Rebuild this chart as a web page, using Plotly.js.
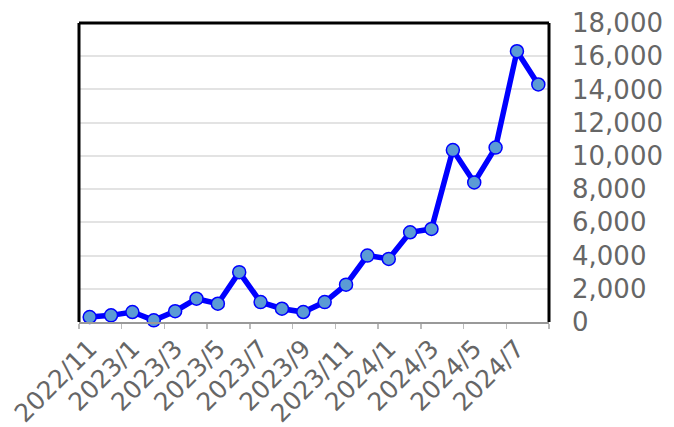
<!DOCTYPE html>
<html>
<head>
<meta charset="utf-8">
<script src="https://cdn.plot.ly/plotly-3.0.1.min.js"></script>
<style>html,body{margin:0;padding:0;background:#fff;}#chart{width:674px;height:427px;}</style>
</head>
<body>
<div id="chart"></div>
<script>
var months = ["2022/11","2022/12","2023/1","2023/2","2023/3","2023/4","2023/5","2023/6","2023/7","2023/8","2023/9","2023/10","2023/11","2023/12","2024/1","2024/2","2024/3","2024/4","2024/5","2024/6","2024/7","2024/8"];
var values = [300, 400, 600, 100, 650, 1400, 1100, 3000, 1200, 800, 600, 1200, 2250, 4000, 3800, 5400, 5600, 10350, 8400, 10500, 16300, 14300];
var yTicks = [0, 2000, 4000, 6000, 8000, 10000, 12000, 14000, 16000, 18000];

var trace = {
  x: months, y: values, type: 'scatter', mode: 'lines+markers',
  line: {color: '#0000ff', width: 5.5},
  marker: {size: 13, color: '#5b9bd5', line: {color: '#0000ff', width: 1.5}},
  cliponaxis: false, hoverinfo: 'skip'
};

var layout = {
  width: 674, height: 427,
  margin: {l: 79, r: 125, t: 23, b: 105},
  paper_bgcolor: '#ffffff', plot_bgcolor: '#ffffff',
  showlegend: false,
  font: {family: 'DejaVu Sans', color: '#666666'},
  xaxis: {
    type: 'category', range: [-0.5, 21.5],
    tickmode: 'linear', tick0: 0, dtick: 2,
    tickson: 'boundaries', ticks: 'outside', ticklen: 5, tickwidth: 1.5, tickcolor: '#bbbbbb',
    tickangle: -45, tickfont: {size: 25, color: '#666666', family: 'DejaVu Sans'},
    showgrid: false, zeroline: false,
    showline: true, linecolor: '#999999', linewidth: 2
  },
  yaxis: {
    side: 'right', range: [0, 18000], tickvals: yTicks,
    tickformat: ',d', ticks: '', ticklabelstandoff: 22,
    tickfont: {size: 26, color: '#666666', family: 'DejaVu Sans'},
    showgrid: true, gridcolor: '#e3e3e3', gridwidth: 2,
    zeroline: false, showline: false
  },
  shapes: [
    {type: 'line', xref: 'paper', yref: 'paper', x0: 0, x1: 0, y0: 0, y1: 1, line: {color: '#000', width: 3}},
    {type: 'line', xref: 'paper', yref: 'paper', x0: 0, x1: 1, y0: 1, y1: 1, line: {color: '#000', width: 3}},
    {type: 'line', xref: 'paper', yref: 'paper', x0: 1, x1: 1, y0: 0, y1: 1, line: {color: '#000', width: 3}}
  ]
};

Plotly.newPlot('chart', [trace], layout, {staticPlot: true, displayModeBar: false});
</script>
</body>
</html>
